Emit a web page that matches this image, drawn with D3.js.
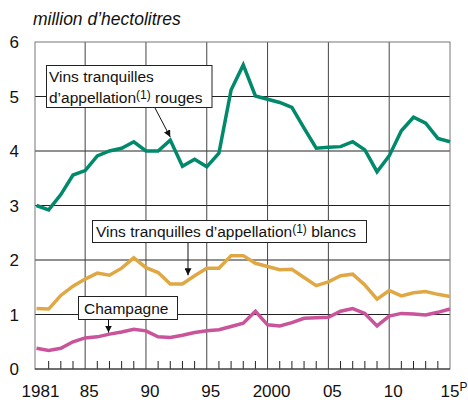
<!DOCTYPE html>
<html>
<head>
<meta charset="utf-8">
<script src="https://cdn.jsdelivr.net/npm/d3@7"></script>
<style>
	body { margin: 0; background: #fff; }
	text { font-family: "Liberation Sans", Arial, sans-serif; fill: #111; }
</style>
</head>
<body>
<svg id="chart"></svg>
<script>
var years = d3.range(1981, 2016)

var rouges = [3.00, 2.92, 3.20, 3.56, 3.64, 3.91, 4.00, 4.05, 4.17, 4.00,
	4.00, 4.20, 3.72, 3.85, 3.71, 3.96, 5.12, 5.58, 5.01, 4.95,
	4.89, 4.80, 4.42, 4.05, 4.07, 4.08, 4.17, 4.02, 3.62, 3.91,
	4.37, 4.62, 4.51, 4.23, 4.17]

var blancs = [1.11, 1.10, 1.35, 1.52, 1.65, 1.76, 1.72, 1.85, 2.04, 1.86,
	1.77, 1.56, 1.56, 1.71, 1.85, 1.85, 2.08, 2.08, 1.94, 1.88,
	1.82, 1.83, 1.68, 1.53, 1.60, 1.71, 1.74, 1.54, 1.28, 1.44,
	1.34, 1.40, 1.42, 1.37, 1.33]

var champagne = [0.38, 0.34, 0.38, 0.50, 0.57, 0.59, 0.64, 0.68, 0.73, 0.70,
	0.59, 0.58, 0.62, 0.67, 0.70, 0.72, 0.78, 0.84, 1.06, 0.81,
	0.79, 0.85, 0.93, 0.94, 0.95, 1.06, 1.11, 1.02, 0.79, 0.97,
	1.02, 1.01, 0.99, 1.04, 1.10]

var yTicks = [0, 1, 2, 3, 4, 5, 6]
var xTicks = [1981, 1985, 1990, 1995, 2000, 2005, 2010, 2015]
var xTickLabels = ["1981", "85", "90", "95", "2000", "05", "10", "15"]

var series = [
	{name: "rouges", values: rouges, color: "#00896b"},
	{name: "blancs", values: blancs, color: "#e0a844"},
	{name: "champagne", values: champagne, color: "#c9549a"}
]

var dim = {width: 468, height: 400, left: 35, right: 450, top: 42, bottom: 369}

var svg = d3.select('#chart')
	.attr('width', dim.width)
	.attr('height', dim.height)

var x = d3.scaleLinear()
	.domain([1981, 2015])
	.range([36.5, dim.right])

var y = d3.scaleLinear()
	.domain([0, 6])
	.range([dim.bottom, dim.top])

// grid
svg.append('g')
	.selectAll('line')
	.data(yTicks.slice(1, -1))
	.enter()
	.append('line')
		.attr('x1', dim.left)
		.attr('x2', dim.right)
		.attr('y1', d => y(d))
		.attr('y2', d => y(d))
		.attr('stroke', '#222')
		.attr('stroke-width', 1)

svg.append('g')
	.selectAll('line')
	.data(xTicks.slice(1, -1))
	.enter()
	.append('line')
		.attr('x1', d => x(d))
		.attr('x2', d => x(d))
		.attr('y1', dim.top)
		.attr('y2', dim.bottom)
		.attr('stroke', '#444')
		.attr('stroke-width', 1)

// minor year ticks
svg.append('g')
	.selectAll('line')
	.data(years.filter(d => xTicks.indexOf(d) < 0))
	.enter()
	.append('line')
		.attr('x1', d => x(d))
		.attr('x2', d => x(d))
		.attr('y1', dim.bottom - 8)
		.attr('y2', dim.bottom)
		.attr('stroke', '#222')
		.attr('stroke-width', 1)

// frame
svg.append('rect')
	.attr('x', dim.left)
	.attr('y', dim.top)
	.attr('width', dim.right - dim.left)
	.attr('height', dim.bottom - dim.top)
	.attr('fill', 'none')
	.attr('stroke', '#777')
	.attr('stroke-width', 1)

svg.append('line')
	.attr('x1', dim.left).attr('x2', dim.right)
	.attr('y1', dim.bottom).attr('y2', dim.bottom)
	.attr('stroke', '#222')

// axis labels
svg.append('g')
	.selectAll('text')
	.data(yTicks)
	.enter()
	.append('text')
		.attr('x', 19)
		.attr('y', d => y(d) + 6)
		.attr('text-anchor', 'end')
		.attr('font-size', 17)
		.text(d => d)

var xl = svg.append('g')
	.selectAll('text')
	.data(xTicks)
	.enter()
	.append('text')
		.attr('x', d => x(d) + 4)
		.attr('y', 397)
		.attr('text-anchor', 'middle')
		.attr('font-size', 17)
		.text((d, i) => xTickLabels[i])

xl.filter(d => d == 2015)
	.append('tspan')
	.attr('font-size', 12)
	.attr('dy', -6)
	.text('P')

svg.append('text')
	.attr('x', 33)
	.attr('y', 25)
	.attr('font-size', 17.5)
	.attr('font-style', 'italic')
	.text('million d\u2019hectolitres')

// lines
var line = d3.line()
	.x((d, i) => x(years[i]))
	.y(d => y(d))

svg.selectAll('path.serie')
	.data(series)
	.enter()
	.append('path')
		.attr('class', 'serie')
		.attr('d', d => line(d.values))
		.attr('fill', 'none')
		.attr('stroke', d => d.color)
		.attr('stroke-width', 3.5)
		.attr('stroke-linejoin', 'miter')

// annotations
svg.append('defs').append('marker')
	.attr('id', 'arr')
	.attr('viewBox', '0 0 10 10')
	.attr('refX', 10).attr('refY', 5)
	.attr('markerWidth', 7).attr('markerHeight', 7)
	.attr('markerUnits', 'userSpaceOnUse')
	.attr('orient', 'auto')
	.append('path')
		.attr('d', 'M0,0 L10,5 L0,10 Z')
		.attr('fill', '#111')

function arrow(x1, y1, x2, y2) {
	svg.append('line')
		.attr('x1', x1).attr('y1', y1)
		.attr('x2', x2).attr('y2', y2)
		.attr('stroke', '#111')
		.attr('stroke-width', 1)
		.attr('marker-end', 'url(#arr)')
}

function box(bx, by, bw, bh) {
	svg.append('rect')
		.attr('x', bx).attr('y', by)
		.attr('width', bw).attr('height', bh)
		.attr('fill', '#fff')
		.attr('stroke', '#222')
		.attr('stroke-width', 1)
}

function label(tx, ty, parts) {
	var t = svg.append('text')
		.attr('x', tx).attr('y', ty)
		.attr('font-size', 15.5)
	parts.forEach(p => {
		t.append('tspan')
			.attr('font-size', p.sup ? 12 : 15.5)
			.attr('dy', p.dy || 0)
			.text(p.t)
	})
}

arrow(155, 108, x(1992), y(4.2) - 3)
box(46.5, 65.5, 165.5, 42)
label(49, 82, [{t: 'Vins tranquilles'}])
label(49, 103, [{t: 'd\u2019appellation'}, {t: '(1)', sup: true, dy: -4}, {t: ' rouges', dy: 4}])

arrow(188, 242, 188, y(1.7) - 1)
box(92.5, 220.5, 274, 22)
label(96, 237, [{t: 'Vins tranquilles d\u2019appellation'}, {t: '(1)', sup: true, dy: -4}, {t: ' blancs', dy: 4}])

arrow(108.5, 319, 108.5, y(0.65) - 1)
box(78.5, 296.5, 99, 23)
label(84, 314, [{t: 'Champagne'}])
</script>
</body>
</html>
